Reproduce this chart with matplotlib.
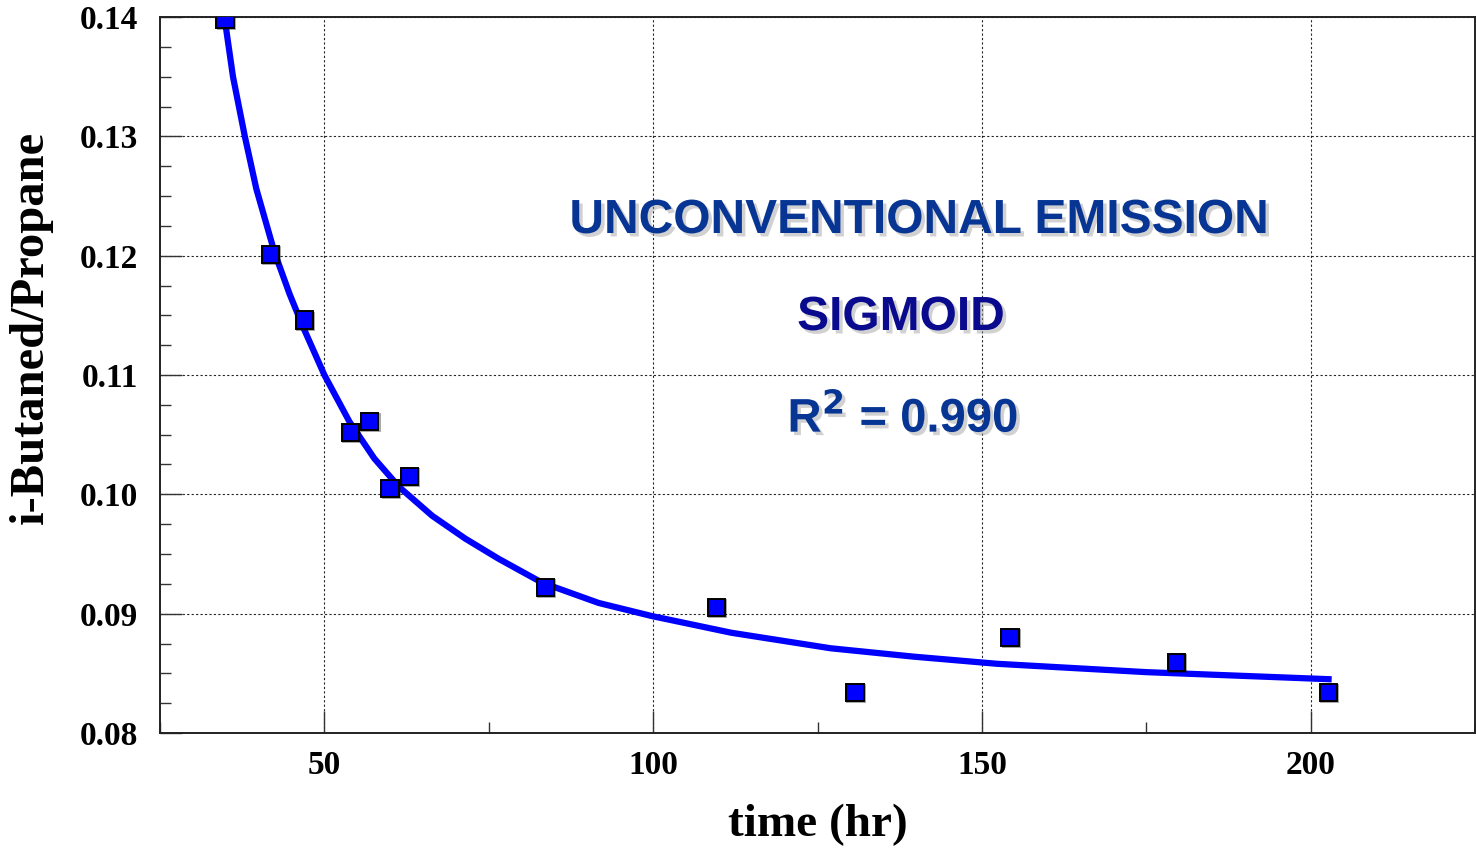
import numpy as np
import matplotlib
matplotlib.use("Agg")
import matplotlib.pyplot as plt
import matplotlib.patheffects as pe
from matplotlib.ticker import MultipleLocator, FormatStrFormatter

time_hr = [34.9, 41.8, 47.0, 54.0, 56.9, 60.0, 62.9, 83.6, 109.6, 130.7, 154.3, 179.6, 202.7]
ratio = [0.1398, 0.1201, 0.1146, 0.1052, 0.1061, 0.1005, 0.1015, 0.0922, 0.0905,
         0.0834, 0.0880, 0.0859, 0.0834]

# ── sigmoid fit curve, sampled from the chart ──────
fit_time = [34.85, 36.1, 37.9, 39.65, 42.4, 44.7, 46.7, 50.0, 53.8, 57.6, 61.4, 66.4,
            71.4, 76.5, 83.1, 91.7, 99.8, 111.9, 127.0, 139.6, 152.3, 175.0, 203.2]
fit_ratio = [0.1398, 0.1350, 0.1300, 0.1256, 0.1203, 0.1168, 0.1141, 0.1100, 0.1061,
             0.1030, 0.1006, 0.0982, 0.0963, 0.0946, 0.0926, 0.0909, 0.0898, 0.0884,
             0.0871, 0.0864, 0.0858, 0.0851, 0.0845]

r2 = 0.990

SERIF = ["Liberation Serif", "DejaVu Serif"]
SANS = ["Liberation Sans", "DejaVu Sans"]
H = 848

fig = plt.figure(figsize=(14.76, 8.48), dpi=100)
ax = fig.add_axes([160 / 1476, 1 - 733 / H, 1315 / 1476, 716 / H])

ax.plot(fit_time, fit_ratio, color="#0000ff", lw=4.5, solid_capstyle="butt",
        solid_joinstyle="round", zorder=3)
ax.plot(time_hr, ratio, ls="none", marker="s", ms=12.5, mfc="#0000ff", mec="black",
        mew=1.4, zorder=4,
        path_effects=[pe.SimpleLineShadow(offset=(0.8, -0.8), alpha=0.35), pe.Normal()])

ax.set_xlim(25, 225)
ax.set_ylim(0.08, 0.14)
ax.xaxis.set_major_locator(MultipleLocator(50))
ax.xaxis.set_minor_locator(MultipleLocator(25))
ax.yaxis.set_major_locator(MultipleLocator(0.01))
ax.yaxis.set_minor_locator(MultipleLocator(0.0025))
ax.yaxis.set_major_formatter(FormatStrFormatter("%.2f"))

ax.grid(True, which="major", color="black", lw=0.8, ls=(0, (2, 2)), alpha=0.85)
ax.tick_params(which="major", direction="in", length=16, width=1.0, color="#333333",
               top=False, right=False)
ax.tick_params(which="minor", direction="in", length=8, width=1.0, color="#333333",
               top=False, right=False)
ax.tick_params(axis="y", which="major", pad=16)
ax.tick_params(axis="x", which="major", pad=12)
for lab in ax.get_xticklabels() + ax.get_yticklabels():
    lab.set_fontfamily(SERIF)
    lab.set_fontweight("bold")
    lab.set_fontsize(24)

for sp in ax.spines.values():
    sp.set_linewidth(1.4)
    sp.set_color("#222222")

ax.set_xlabel("time (hr)", fontsize=34, fontweight="bold", family=SERIF)
ax.set_ylabel("i-Butaned/Propane", fontsize=35, fontweight="bold", family=SERIF)
ax.xaxis.set_label_coords(0.5, -0.099)
ax.yaxis.set_label_coords(-0.0814, 0.566)

# annotation block (pixel positions, baseline anchored)
shadow = [pe.SimplePatchShadow(offset=(2.5, -2.5), shadow_rgbFace="#999999", alpha=0.45),
          pe.Normal()]
ax.text(919, H - 233, "UNCONVENTIONAL EMISSION", transform=None, fontsize=34.5,
        fontweight="bold", family=SANS, color="#073594", ha="center", va="baseline",
        path_effects=shadow)
ax.text(901, H - 330, "SIGMOID", transform=None, fontsize=34.5, fontweight="bold",
        family=SANS, color="#0a0a8e", ha="center", va="baseline", path_effects=shadow)
ax.text(903, H - 432, f"R$^\\mathbf{{2}}$ = {r2:.3f}", transform=None, fontsize=34,
        fontweight="bold", family=SANS, color="#073594", ha="center", va="baseline",
        path_effects=shadow)

fig.savefig("out.png", dpi=100)
